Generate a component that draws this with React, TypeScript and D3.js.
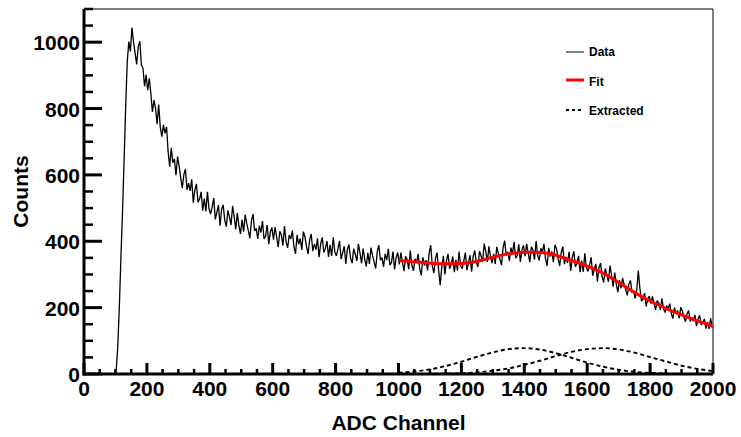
import React from "react";
import * as d3 from "d3";

// ---- data ----
const BIN_WIDTH = 5; // ADC channels per bin, bins start at channel 0
const counts: number[] = [
  // 0 - 95
  0, 0, 0, 0, 0, 0, 0, 0, 0, 0, 0, 0, 0, 0, 0, 0, 0, 0, 0, 0,
  // 100 - 195
  12, 85, 205, 355, 490, 645, 805, 940, 1002, 972, 1044, 1000, 967, 933, 987, 1003, 931, 922, 867, 902,
  // 200 - 295
  855, 891, 846, 790, 825, 801, 753, 812, 744, 715, 751, 725, 745, 670, 625, 682, 637, 648, 599, 655,
  // 300 - 395
  627, 591, 560, 601, 617, 555, 575, 552, 587, 516, 555, 573, 518, 527, 549, 492, 529, 490, 549, 498,
  // 400 - 495
  482, 504, 530, 466, 488, 509, 447, 496, 510, 464, 444, 493, 473, 449, 507, 474, 436, 486, 448, 422,
  // 500 - 595
  465, 429, 480, 453, 432, 409, 462, 482, 431, 439, 407, 447, 426, 461, 407, 415, 449, 391, 428, 442,
  // 600 - 695
  405, 443, 413, 382, 430, 419, 387, 446, 398, 380, 419, 407, 432, 384, 362, 419, 391, 408, 374, 429,
  // 700 - 795
  413, 384, 362, 404, 422, 370, 392, 375, 409, 352, 392, 412, 366, 378, 401, 353, 389, 356, 412, 368,
  // 800 - 895
  356, 377, 401, 346, 366, 385, 332, 376, 390, 350, 334, 378, 361, 341, 392, 365, 333, 378, 346, 324,
  // 900 - 995
  365, 332, 381, 357, 338, 318, 369, 388, 343, 351, 323, 362, 343, 377, 328, 336, 369, 315, 351, 366,
  // 1000 - 1095
  330, 366, 338, 310, 355, 345, 316, 372, 327, 311, 347, 336, 362, 317, 297, 352, 327, 343, 312, 365,
  // 1100 - 1195
  388, 326, 304, 347, 366, 314, 268, 321, 356, 300, 341, 362, 317, 330, 354, 307, 344, 312, 369, 326,
  // 1200 - 1295
  317, 340, 366, 313, 336, 358, 308, 355, 372, 335, 323, 370, 356, 339, 393, 369, 338, 385, 354, 334,
  // 1300 - 1395
  362, 332, 383, 362, 346, 328, 381, 402, 358, 368, 341, 381, 363, 398, 349, 358, 391, 338, 374, 388,
  // 1400 - 1495
  355, 392, 364, 337, 383, 374, 345, 401, 357, 342, 379, 367, 392, 347, 326, 380, 354, 369, 337, 389,
  // 1500 - 1595
  378, 349, 326, 367, 384, 331, 353, 335, 368, 311, 351, 370, 323, 334, 356, 307, 342, 308, 364, 320,
  // 1600 - 1695
  309, 329, 352, 296, 315, 332, 278, 321, 334, 293, 276, 318, 299, 278, 327, 298, 263, 306, 271, 247,
  // 1700 - 1795
  283, 258, 289, 270, 254, 237, 271, 282, 247, 250, 228, 253, 312, 258, 221, 224, 244, 204, 226, 235,
  // 1800 - 1895
  212, 234, 213, 193, 221, 214, 193, 228, 197, 185, 206, 197, 212, 182, 167, 200, 182, 191, 168, 201,
  // 1900 - 1995
  190, 171, 158, 181, 191, 158, 171, 159, 178, 144, 166, 177, 148, 154, 166, 137, 157, 136, 168, 140,
];

const fitChannels: number[] = [1000, 1050, 1100, 1150, 1200, 1250, 1300, 1350, 1400, 1450, 1500, 1550, 1600, 1650, 1700, 1750, 1800, 1850, 1900, 1950, 2000];
const fitValues: number[] = [342, 338, 334, 332, 333, 340, 352, 362, 367, 366, 358, 342, 325, 304, 276, 246, 220, 198, 178, 160, 144];
const peak1Values: number[] = [3.7, 7.6, 14, 24, 37, 52, 65, 75, 78, 73.5, 63, 49, 34, 22, 12.7, 6.7, 3.2, 1.4, 0.6, 0.2, 0.1];
const peak2Values: number[] = [0.1, 0.2, 0.5, 1.1, 2.5, 5.2, 9.9, 17, 27.6, 40, 54, 66.7, 75, 78, 74, 64.5, 51, 38, 25, 15.6, 8.8];

const xTicks: number[] = [0, 200, 400, 600, 800, 1000, 1200, 1400, 1600, 1800, 2000];
const yTicks: number[] = [0, 200, 400, 600, 800, 1000];
const legendLabels: string[] = ["Data", "Fit", "Extracted"];

const FONT = "'Liberation Sans', Arial, Helvetica, sans-serif";

export default function App() {
  const W = 741, H = 437;
  const L = 84, R = 713, T = 9, B = 374;
  const x = d3.scaleLinear().domain([0, 2000]).range([L, R]);
  const y = d3.scaleLinear().domain([0, 1100]).range([B, T]);

  const histPts: [number, number][] = counts.map((c, i) => [i * BIN_WIDTH + BIN_WIDTH / 2, c]);
  const histLine = d3
    .line<[number, number]>()
    .x((d) => x(d[0]))
    .y((d) => y(d[1]));

  const smooth = d3
    .line<[number, number]>()
    .x((d) => x(d[0]))
    .y((d) => y(d[1]))
    .curve(d3.curveMonotoneX);

  const fitPts = fitChannels.map((c, i) => [c, fitValues[i]] as [number, number]);
  const p1Pts = fitChannels.map((c, i) => [c, peak1Values[i]] as [number, number]);
  const p2Pts = fitChannels.map((c, i) => [c, peak2Values[i]] as [number, number]);

  const xMinor = d3.range(0, 2001, 50);
  const yMinor = d3.range(0, 1101, 50);

  return (
    <svg
      width={W}
      height={H}
      style={{ position: "absolute", left: 0, top: 0, display: "block", background: "#fff" }}
      fontFamily={FONT}
    >
      <defs>
        <clipPath id="plotclip">
          <rect x={L} y={T} width={R - L} height={B - T} />
        </clipPath>
      </defs>
      <rect x={0} y={0} width={W} height={H} fill="#fff" />

      {/* frame top/right */}
      <line x1={L} y1={T} x2={R} y2={T} stroke="#000" strokeWidth={1} />
      <line x1={R} y1={T} x2={R} y2={B} stroke="#000" strokeWidth={1} />

      {/* data */}
      <g clipPath="url(#plotclip)">
        <path d={histLine(histPts) || ""} fill="none" stroke="#000" strokeWidth={1.3} strokeLinejoin="miter" strokeMiterlimit={2} />
        <path d={smooth(p1Pts) || ""} fill="none" stroke="#000" strokeWidth={1.9} strokeDasharray="4,3" />
        <path d={smooth(p2Pts) || ""} fill="none" stroke="#000" strokeWidth={1.9} strokeDasharray="4,3" />
        <path d={smooth(fitPts) || ""} fill="none" stroke="#ff0000" strokeWidth={3} />
      </g>

      {/* y axis */}
      {yMinor.map((v) => (
        <line key={"ym" + v} x1={L} x2={L + (v % 200 === 0 ? 18 : 9)} y1={y(v)} y2={y(v)} stroke="#000" strokeWidth={v % 200 === 0 ? 3 : 2.5} />
      ))}
      <line x1={L} y1={T} x2={L} y2={B + 1.5} stroke="#000" strokeWidth={3} />
      {yTicks.map((v) => (
        <text key={"yl" + v} x={L - 4} y={y(v) + 8} textAnchor="end" fontSize={21} fontWeight="bold">
          {v}
        </text>
      ))}

      {/* x axis */}
      {xMinor.map((v) => (
        <line key={"xm" + v} x1={x(v)} x2={x(v)} y1={B} y2={B - (v % 200 === 0 ? 11 : 5)} stroke="#000" strokeWidth={v % 200 === 0 ? 3 : 2.5} />
      ))}
      <line x1={L - 1.5} y1={B} x2={R} y2={B} stroke="#000" strokeWidth={3} />
      {xTicks.map((v) => (
        <text key={"xl" + v} x={x(v)} y={396} textAnchor="middle" fontSize={21} fontWeight="bold">
          {v}
        </text>
      ))}

      {/* axis titles */}
      <text x={(L + R) / 2} y={430} textAnchor="middle" fontSize={21} fontWeight="bold">
        ADC Channel
      </text>
      <text
        transform={`translate(28,${(T + B) / 2}) rotate(-90)`}
        textAnchor="middle"
        fontSize={21}
        fontWeight="bold"
      >
        Counts
      </text>

      {/* legend */}
      <g>
        <line x1={566} x2={584} y1={52} y2={52} stroke="#000" strokeWidth={1} />
        <text x={589} y={56} fontSize={12} fontWeight="bold">{legendLabels[0]}</text>
        <line x1={566} x2={584} y1={80} y2={80} stroke="#ff0000" strokeWidth={3} />
        <text x={589} y={85.5} fontSize={12} fontWeight="bold">{legendLabels[1]}</text>
        <line x1={566} x2={584} y1={110} y2={110} stroke="#000" strokeWidth={1.8} strokeDasharray="3,3" />
        <text x={589} y={115} fontSize={12} fontWeight="bold">{legendLabels[2]}</text>
      </g>
    </svg>
  );
}
